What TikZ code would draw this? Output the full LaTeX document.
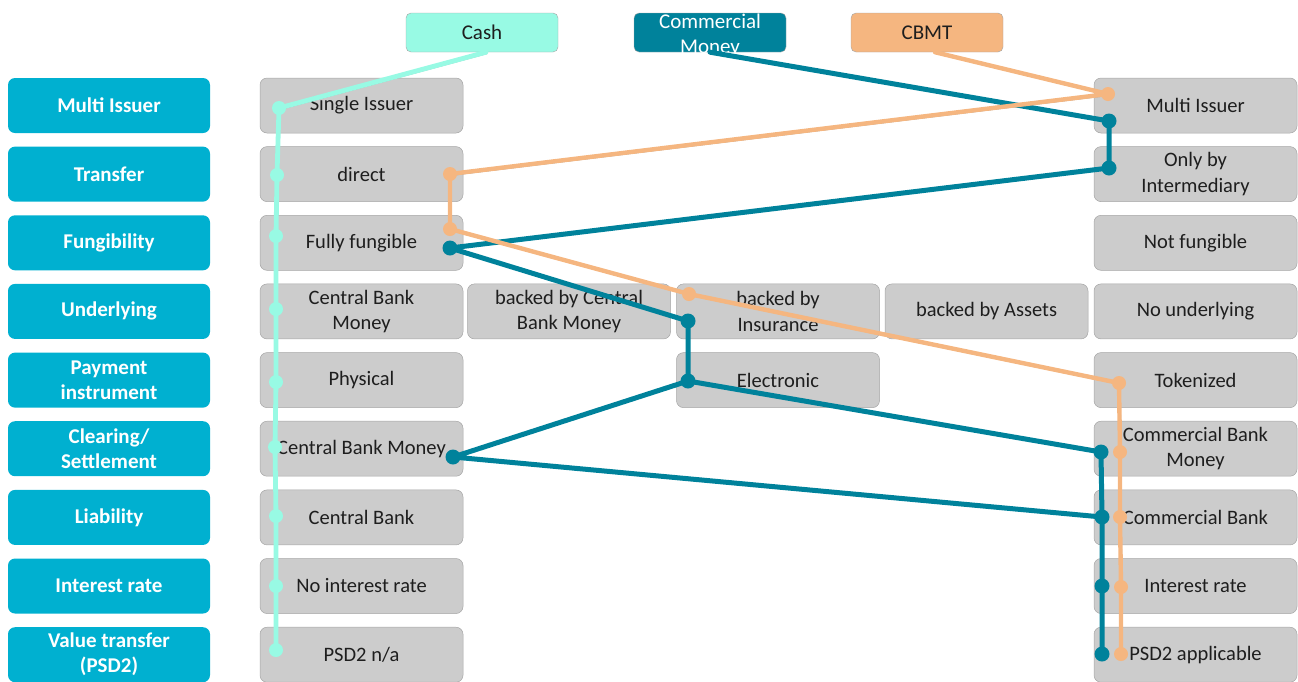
\documentclass[tikz,border=0pt]{standalone}
\usepackage{fontspec}
\setmainfont{Carlito}
\definecolor{labcyan}{RGB}{0,176,208}
\definecolor{optgrey}{RGB}{204,204,204}
\definecolor{optedge}{RGB}{165,165,165}
\definecolor{cashmint}{RGB}{152,250,228}
\definecolor{cmteal}{RGB}{0,130,155}
\definecolor{cbmtorange}{RGB}{245,182,128}
\definecolor{txtdark}{RGB}{30,30,30}

\begin{document}
\begin{tikzpicture}[x=1pt,y=-1pt,
  rowlabel/.style={fill=labcyan, rounded corners=7pt, minimum width=202pt, minimum height=55pt,
    inner sep=0pt, text=white, font=\fontsize{21}{25}\selectfont\bfseries, align=center},
  optbox/.style={fill=optgrey, draw=optedge, line width=0.5pt, rounded corners=7pt,
    minimum width=203pt, minimum height=55pt, inner sep=0pt, text=txtdark,
    font=\fontsize{20.5}{25.5}\selectfont, align=center},
  headbox/.style={rounded corners=5pt, minimum width=152pt, minimum height=39pt, inner sep=0pt,
    font=\fontsize{21}{25}\selectfont, align=center, draw=optedge, line width=0.4pt},
  wire/.style={line join=round, line cap=round},
  edgeshadow/.style={preaction={draw=black!40, line width=0.7pt,
    transform canvas={shift={(1.2pt,-1.5pt)}}}},
  joint/.style={circle, inner sep=0pt, minimum size=#1},
]
\useasboundingbox (0,0) rectangle (1298,681);

% row headings
\node[rowlabel] (r1) at (109,105.5) {Multi Issuer};
\node[rowlabel] (r2) at (109,174.1) {Transfer};
\node[rowlabel] (r3) at (109,242.8) {Fungibility};
\node[rowlabel] (r4) at (109,311.4) {Underlying};
\node[rowlabel] (r5) at (109,380.1) {Payment\\instrument};
\node[rowlabel] (r6) at (109,448.7) {Clearing/\\Settlement};
\node[rowlabel] (r7) at (109,517.4) {Liability};
\node[rowlabel] (r8) at (109,586.0) {Interest rate};
\node[rowlabel] (r9) at (109,654.7) {Value transfer\\(PSD2)};

% first column of options
\node[optbox] (a1) at (361.5,105.5) {Single Issuer};
\node[optbox] (a2) at (361.5,174.1) {direct};
\node[optbox] (a3) at (361.5,242.8) {Fully fungible};
\node[optbox] (a4) at (361.5,311.4) {Central Bank\\Money};
\node[optbox] (a5) at (361.5,380.1) {Physical};
\node[optbox] (a6) at (361.5,448.7) {Central Bank Money};
\node[optbox] (a7) at (361.5,517.4) {Central Bank};
\node[optbox] (a8) at (361.5,586.0) {No interest rate};
\node[optbox] (a9) at (361.5,654.7) {PSD2 n/a};

% middle options
\node[optbox] (b4) at (569,311.4) {backed by Central\\Bank Money};
\node[optbox] (c4) at (778,311.4) {backed by\\Insurance};
\node[optbox] (c5) at (778,380.1) {Electronic};
\node[optbox] (d4) at (986.5,311.4) {backed by Assets};

% last column of options
\node[optbox] (e1) at (1195.5,105.5) {Multi Issuer};
\node[optbox] (e2) at (1195.5,174.1) {Only by\\Intermediary};
\node[optbox] (e3) at (1195.5,242.8) {Not fungible};
\node[optbox] (e4) at (1195.5,311.4) {No underlying};
\node[optbox] (e5) at (1195.5,380.1) {Tokenized};
\node[optbox] (e6) at (1195.5,448.7) {Commercial Bank\\Money};
\node[optbox] (e7) at (1195.5,517.4) {Commercial Bank};
\node[optbox] (e8) at (1195.5,586.0) {Interest rate};
\node[optbox] (e9) at (1195.5,654.7) {PSD2 applicable};

% legend
\node[headbox, fill=cashmint, text=txtdark] (cash) at (482,32.5) {Cash};
\node[headbox, fill=cmteal,
  label={[text=white, font=\fontsize{21}{25}\selectfont, align=center, yshift=-3pt]center:Commercial\\Money}]
  (cm) at (710,32.5) {};
\node[headbox, fill=cbmtorange, text=txtdark] (cbmt) at (927,32.5) {CBMT};

% path points
\coordinate (m1) at (279,108); \coordinate (m2) at (277,175); \coordinate (m3) at (276,236);
\coordinate (m4) at (276,309); \coordinate (m5) at (276,382); \coordinate (m6) at (275,447);
\coordinate (m7) at (276,516); \coordinate (m8) at (276,586); \coordinate (m9) at (276,650);

\coordinate (o1) at (1108,94);  \coordinate (o2) at (450,174);  \coordinate (o3) at (450,229);
\coordinate (o4) at (689,294);  \coordinate (o5) at (1119,383); \coordinate (o6) at (1120,452);
\coordinate (o7) at (1120,517); \coordinate (o8) at (1121,587); \coordinate (o9) at (1121,654);

\coordinate (t1) at (1109,121); \coordinate (t2) at (1109,168); \coordinate (t3) at (450,248);
\coordinate (t4) at (688,321);  \coordinate (t5) at (688,381);  \coordinate (t6) at (1101,452);
\coordinate (t7) at (1102,517); \coordinate (t8) at (1102,586); \coordinate (t9) at (1102,654);
\coordinate (t10) at (453,457);

% commercial money
\draw[wire, cmteal, line width=5pt] (cm.south) -- (t1) -- (t2) -- (t3) -- (t4) -- (t5)
  -- (t6) -- (t7) -- (t8) -- (t9);
\draw[wire, cmteal, line width=5pt] (t5) -- (t10) -- (t7);
\foreach \p in {t1,t2,t3,t4,t5,t6,t7,t8,t9,t10}
  \node[joint=15pt, fill=cmteal] at (\p) {};

% CBMT
\draw[wire, edgeshadow, cbmtorange, line width=4.4pt] ([xshift=8pt]cbmt.south) -- (o1) -- (o2)
  -- (o3) -- (o4) -- (o5) -- (o6) -- (o7) -- (o8) -- (o9);
\foreach \p in {o1,o2,o3,o4,o5,o6,o7,o8,o9}
  \node[joint=14pt, fill=cbmtorange] at (\p) {};

% cash
\draw[wire, edgeshadow, cashmint, line width=4.8pt] ([xshift=4pt]cash.south) -- (m1) -- (m2)
  -- (m3) -- (m4) -- (m5) -- (m6) -- (m7) -- (m8) -- (m9);
\foreach \p in {m1,m2,m3,m4,m5,m6,m7,m8,m9}
  \node[joint=14pt, fill=cashmint] at (\p) {};
\end{tikzpicture}
\end{document}
